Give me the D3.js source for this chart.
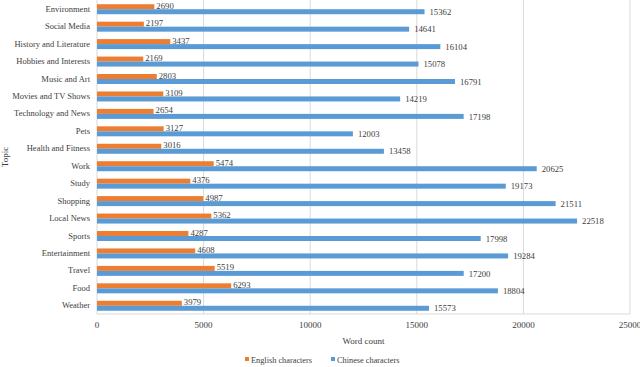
<!DOCTYPE html>
<html>
<head>
<meta charset="utf-8">
<script src="https://cdn.jsdelivr.net/npm/d3@7"></script>
<style>
  body { margin: 0; background: #fff; }
  svg text { font-family: "Liberation Serif", "Times New Roman", "DejaVu Serif", serif; }
</style>
</head>
<body>
<div id="chart"></div>
<script>
// topics listed top to bottom
const topics = ['Environment', 'Social Media', 'History and Literature', 'Hobbies and Interests',
  'Music and Art', 'Movies and TV Shows', 'Technology and News', 'Pets', 'Health and Fitness',
  'Work', 'Study', 'Shopping', 'Local News', 'Sports', 'Entertainment', 'Travel', 'Food', 'Weather'];
const englishChars = [2690, 2197, 3437, 2169, 2803, 3109, 2654, 3127, 3016,
  5474, 4376, 4987, 5362, 4287, 4608, 5519, 6293, 3979];
const chineseChars = [15362, 14641, 16104, 15078, 16791, 14219, 17198, 12003, 13458,
  20625, 19173, 21511, 22518, 17998, 19284, 17200, 18804, 15573];
const xTicks = [0, 5000, 10000, 15000, 20000, 25000];
const seriesNames = ['English characters', 'Chinese characters'];
const seriesColors = ['#ED7D31', '#5B9BD5'];

const W = 640, H = 367;
const margin = { top: 0, right: 10, bottom: 53, left: 97 };
const width = W - margin.left - margin.right;
const height = H - margin.top - margin.bottom;
const textCol = '#404040';

const svg = d3.select('#chart').append('svg')
  .attr('width', W).attr('height', H);
const g = svg.append('g').attr('transform', `translate(${margin.left},${margin.top})`);

const x = d3.scaleLinear().domain([0, 25000]).range([0, width]);
const y = d3.scaleBand().domain(topics).range([0, height]).paddingInner(0).paddingOuter(0);
const barH = 5;
const mid = d => y(d) + y.bandwidth() / 2 + 0.5;

// gridlines
g.selectAll('.grid').data(xTicks.slice(1)).enter().append('line')
  .attr('x1', d => x(d)).attr('x2', d => x(d))
  .attr('y1', 0).attr('y2', height)
  .attr('stroke', '#d9d9d9').attr('stroke-width', 1);

// frame lines (left axis and bottom)
g.append('line').attr('x1', 0).attr('x2', 0).attr('y1', 0).attr('y2', height)
  .attr('stroke', '#d9d9d9');
g.append('line').attr('x1', 0).attr('x2', width).attr('y1', height).attr('y2', height)
  .attr('stroke', '#d9d9d9');

const rows = topics.map((t, i) => ({ topic: t, en: englishChars[i], zh: chineseChars[i] }));

// english bars (upper)
g.selectAll('.en').data(rows).enter().append('rect')
  .attr('x', 0)
  .attr('y', d => mid(d.topic) - barH)
  .attr('width', d => x(d.en))
  .attr('height', barH)
  .attr('fill', seriesColors[0]);

// chinese bars (lower)
g.selectAll('.zh').data(rows).enter().append('rect')
  .attr('x', 0)
  .attr('y', d => mid(d.topic))
  .attr('width', d => x(d.zh))
  .attr('height', barH)
  .attr('fill', seriesColors[1]);

// value labels
g.selectAll('.enLab').data(rows).enter().append('text')
  .attr('x', d => x(d.en) + 2)
  .attr('y', d => mid(d.topic) - barH / 2 + 2)
  .attr('font-size', 8.7).attr('fill', textCol)
  .text(d => d.en);
g.selectAll('.zhLab').data(rows).enter().append('text')
  .attr('x', d => x(d.zh) + 5)
  .attr('y', d => mid(d.topic) + barH / 2 + 3.2)
  .attr('font-size', 8.7).attr('fill', textCol)
  .text(d => d.zh);

// y axis labels
g.selectAll('.cat').data(topics).enter().append('text')
  .attr('x', -7)
  .attr('y', d => mid(d) + 2.5)
  .attr('text-anchor', 'end')
  .attr('font-size', 8.5).attr('fill', textCol)
  .text(d => d);

// x axis tick labels
g.selectAll('.xt').data(xTicks).enter().append('text')
  .attr('x', d => x(d))
  .attr('y', height + 14)
  .attr('text-anchor', 'middle')
  .attr('font-size', 9).attr('fill', textCol)
  .text(d => d);

// axis titles
svg.append('text')
  .attr('x', margin.left + width / 2).attr('y', H - 23)
  .attr('text-anchor', 'middle').attr('font-size', 9).attr('fill', textCol)
  .text('Word count');
svg.append('text')
  .attr('transform', `translate(8,${height / 2}) rotate(-90)`)
  .attr('text-anchor', 'middle').attr('font-size', 9).attr('fill', textCol)
  .text('Topic');

// legend
const legend = svg.append('g').attr('transform', `translate(245,${H - 4})`);
const legendX = [0, 86];
seriesNames.forEach((name, i) => {
  const lg = legend.append('g').attr('transform', `translate(${legendX[i]},0)`);
  lg.append('rect').attr('x', 0).attr('y', -6).attr('width', 4).attr('height', 4)
    .attr('fill', seriesColors[i]);
  lg.append('text').attr('x', 6).attr('y', 0)
    .attr('font-size', 8.3).attr('fill', textCol).text(name);
});
</script>
</body>
</html>
